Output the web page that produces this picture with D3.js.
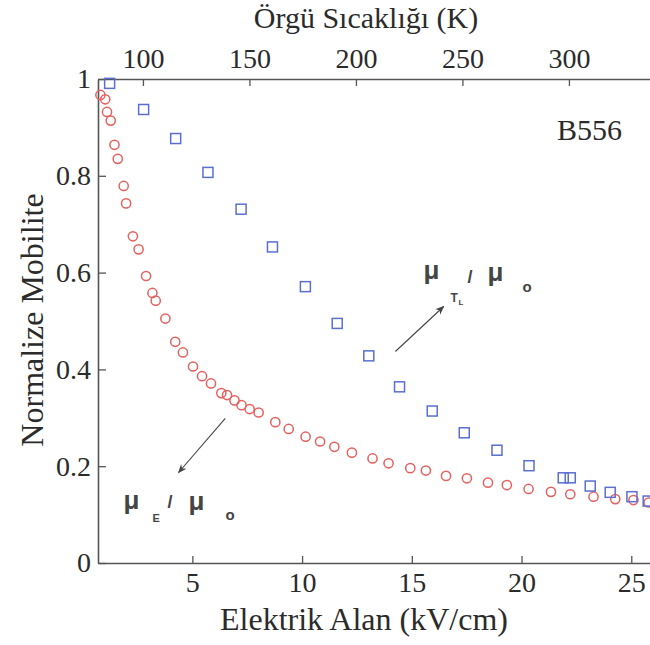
<!DOCTYPE html>
<html>
<head>
<meta charset="utf-8">
<script src="https://cdn.jsdelivr.net/npm/d3@7"></script>
<style>
  html, body { margin: 0; padding: 0; background: #fff; }
  svg { display: block; }
</style>
</head>
<body>
<svg id="chart" width="650" height="645"></svg>
<script>
// Electric field (kV/cm) and normalized mobility μ_E/μ_o (red circles)
const fieldE = [0.81, 1.03, 1.11, 1.28, 1.45, 1.60, 1.87, 1.98, 2.29, 2.55, 2.89, 3.18, 3.33, 3.77,
  4.22, 4.57, 5.03, 5.44, 5.85, 6.32, 6.58, 6.92, 7.24, 7.61, 8.02, 8.78, 9.39, 10.16, 10.82,
  11.47, 12.27, 13.21, 13.94, 14.93, 15.64, 16.56, 17.51, 18.47, 19.33, 20.32, 21.34, 22.22,
  23.28, 24.27, 25.10, 25.79];
const mobilityE = [0.967, 0.958, 0.932, 0.914, 0.864, 0.835, 0.779, 0.743, 0.675, 0.648, 0.593,
  0.558, 0.542, 0.505, 0.457, 0.435, 0.406, 0.386, 0.371, 0.351, 0.347, 0.336, 0.326, 0.318,
  0.311, 0.291, 0.277, 0.261, 0.251, 0.240, 0.228, 0.216, 0.206, 0.196, 0.191, 0.180, 0.175,
  0.166, 0.161, 0.153, 0.147, 0.142, 0.137, 0.132, 0.130, 0.125];

// Lattice-temperature equivalent, plotted against the same field axis: μ_TL/μ_o (blue squares)
const fieldTL = [1.23, 2.78, 4.24, 5.71, 7.22, 8.65, 10.15, 11.60, 13.04, 14.44, 15.93, 17.39,
  18.88, 20.34, 21.90, 22.22, 23.13, 24.04, 25.03, 25.77];
const mobilityTL = [0.991, 0.937, 0.877, 0.807, 0.731, 0.653, 0.571, 0.495, 0.428, 0.364, 0.314,
  0.269, 0.233, 0.201, 0.176, 0.176, 0.159, 0.146, 0.137, 0.128];

// Axis ticks
const xTicks = [5, 10, 15, 20, 25];
const yTicks = [0, 0.2, 0.4, 0.6, 0.8, 1];
const yTickLabels = ["0", "0.2", "0.4", "0.6", "0.8", "1"];
const tTicks = [100, 150, 200, 250, 300];

// Annotation arrows in data units: [E0, v0, E1, v1]
const arrowE = [6.50, 0.299, 4.37, 0.187];
const arrowTL = [14.25, 0.437, 16.45, 0.530];
// Label anchors in data units
const labelE = [1.86, 0.112];
const labelTL = [15.53, 0.586];

const svg = d3.select("#chart");
const serif = "'Liberation Serif', 'Times New Roman', serif";
const sans = "'Liberation Sans', Arial, sans-serif";
const axisColor = "#555";
const textColor = "#2b2b2b";

const x = d3.scaleLinear().domain([0.7, 26.4]).range([98, 662]);
const y = d3.scaleLinear().domain([0, 1]).range([563, 79]);
const xTop = d3.scaleLinear().domain([78.9, 343.7]).range([98, 662]);

function styleAxis(g) {
  g.select(".domain").attr("stroke", axisColor).attr("stroke-width", 1.6);
  g.selectAll(".tick line").attr("stroke", axisColor).attr("stroke-width", 1.3);
  g.selectAll(".tick text").attr("fill", textColor).style("font-family", serif).style("font-size", "28px");
}

// Bottom axis (ticks pointing inward)
svg.append("g")
  .attr("transform", `translate(0,${y(0)})`)
  .call(d3.axisBottom(x).tickValues(xTicks).tickSize(-7).tickSizeOuter(0).tickPadding(9))
  .call(styleAxis);

// Top axis: lattice temperature
svg.append("g")
  .attr("transform", `translate(0,${y(1)})`)
  .call(d3.axisTop(xTop).tickValues(tTicks).tickSize(-7).tickSizeOuter(0).tickPadding(11))
  .call(styleAxis);

// Left axis
svg.append("g")
  .attr("transform", `translate(${x.range()[0]},0)`)
  .call(d3.axisLeft(y).tickValues(yTicks).tickFormat((d, i) => yTickLabels[i])
    .tickSize(-8).tickSizeOuter(0).tickPadding(7))
  .call(styleAxis);

// Axis titles
svg.append("text")
  .attr("x", 366).attr("y", 28)
  .attr("text-anchor", "middle")
  .style("font-family", serif).style("font-size", "30px").attr("fill", textColor)
  .text("Örgü Sıcaklığı (K)");

svg.append("text")
  .attr("x", 364).attr("y", 630)
  .attr("text-anchor", "middle")
  .style("font-family", serif).style("font-size", "32px").attr("fill", textColor)
  .text("Elektrik Alan (kV/cm)");

svg.append("text")
  .attr("transform", "translate(43,320) rotate(-90)")
  .attr("text-anchor", "middle")
  .style("font-family", serif).style("font-size", "32px").attr("fill", textColor)
  .text("Normalize Mobilite");

svg.append("text")
  .attr("x", 557).attr("y", 140)
  .style("font-family", serif).style("font-size", "30px").attr("fill", textColor)
  .text("B556");

// Data: red circles
const circles = fieldE.map((e, i) => ({ e, v: mobilityE[i] }));
svg.append("g").selectAll("circle")
  .data(circles).join("circle")
  .attr("cx", d => x(d.e)).attr("cy", d => y(d.v))
  .attr("r", 4.6)
  .attr("fill", "none").attr("stroke", "#e5605f").attr("stroke-width", 1.5);

// Data: blue squares
const squares = fieldTL.map((e, i) => ({ e, v: mobilityTL[i] }));
const sq = 10;
svg.append("g").selectAll("rect")
  .data(squares).join("rect")
  .attr("x", d => x(d.e) - sq / 2).attr("y", d => y(d.v) - sq / 2)
  .attr("width", sq).attr("height", sq)
  .attr("fill", "none").attr("stroke", "#5a6fd0").attr("stroke-width", 1.5);

// Arrows
const defs = svg.append("defs");
defs.append("marker")
  .attr("id", "arrowhead")
  .attr("viewBox", "0 0 10 10").attr("refX", 9).attr("refY", 5)
  .attr("markerWidth", 9).attr("markerHeight", 9).attr("orient", "auto")
  .attr("markerUnits", "userSpaceOnUse")
  .append("path").attr("d", "M0,1 L10,5 L0,9 L3,5 Z").attr("fill", "#444");

[arrowE, arrowTL].forEach(a => {
  svg.append("line")
    .attr("x1", x(a[0])).attr("y1", y(a[1]))
    .attr("x2", x(a[2])).attr("y2", y(a[3]))
    .attr("stroke", "#444").attr("stroke-width", 1.1)
    .attr("marker-end", "url(#arrowhead)");
});

// Ratio labels: μ_E / μ_o and μ_TL / μ_o
function ratioLabel(anchor, parts) {
  const g = svg.append("g")
    .attr("transform", `translate(${x(anchor[0])},${y(anchor[1])})`)
    .style("font-family", sans).style("font-weight", "bold").attr("fill", "#454545");
  parts.forEach(p => {
    g.append("text").attr("x", p.dx).attr("y", p.dy)
      .style("font-size", p.size + "px").text(p.t);
  });
}

ratioLabel(labelE, [
  { t: "μ", dx: 0, dy: 0, size: 26 },
  { t: "E", dx: 29, dy: 13, size: 11 },
  { t: "/", dx: 44, dy: -1, size: 18 },
  { t: "μ", dx: 65, dy: 1, size: 26 },
  { t: "o", dx: 102, dy: 11, size: 15 }
]);

ratioLabel(labelTL, [
  { t: "μ", dx: 0, dy: 0, size: 26 },
  { t: "T", dx: 27, dy: 23, size: 12 },
  { t: "L", dx: 35, dy: 26, size: 8 },
  { t: "/", dx: 44, dy: 4, size: 18 },
  { t: "μ", dx: 64, dy: 2, size: 26 },
  { t: "o", dx: 99, dy: 13, size: 15 }
]);
</script>
</body>
</html>
